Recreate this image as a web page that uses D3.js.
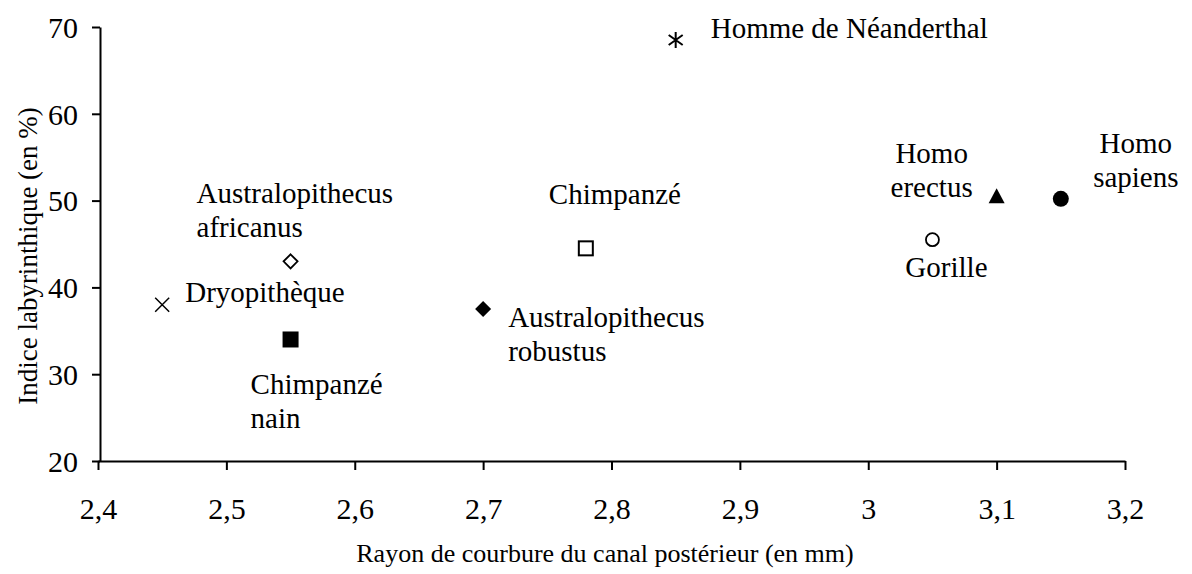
<!DOCTYPE html>
<html>
<head>
<meta charset="utf-8">
<script src="https://cdn.jsdelivr.net/npm/d3@7"></script>
<style>
  body { margin: 0; background: #fff; }
  svg text { font-family: "Liberation Serif", Tinos, "Times New Roman", "DejaVu Serif", serif; }
</style>
</head>
<body>
<div id="chart"></div>
<script>
// species measured
const species = ['Dryopithèque', 'Australopithecus africanus', 'Chimpanzé nain', 'Australopithecus robustus',
  'Chimpanzé', 'Homme de Néanderthal', 'Gorille', 'Homo erectus', 'Homo sapiens'];
const rayon = [2.45, 2.55, 2.55, 2.70, 2.78, 2.85, 3.05, 3.10, 3.15];   // mm
const indice = [38, 43, 34, 37.5, 44.5, 68.5, 45.5, 50.5, 50.2];      // %
const symbols = ['cross', 'diamondOpen', 'squareFilled', 'diamondFilled', 'squareOpen',
  'asterisk', 'circleOpen', 'triangleFilled', 'circleFilled'];

const xTicks = [2.4, 2.5, 2.6, 2.7, 2.8, 2.9, 3.0, 3.1, 3.2];
const yTicks = [20, 30, 40, 50, 60, 70];

// label placement (lines, anchor, offset from the point, in px)
const labels = [
  { lines: ['Dryopithèque'], anchor: 'start', dx: 23, dy: -3 },
  { lines: ['Australopithecus', 'africanus'], anchor: 'start', dx: -94, dy: -58 },
  { lines: ['Chimpanzé', 'nain'], anchor: 'start', dx: -40, dy: 55 },
  { lines: ['Australopithecus', 'robustus'], anchor: 'start', dx: 25, dy: 18 },
  { lines: ['Chimpanzé'], anchor: 'start', dx: -37, dy: -44 },
  { lines: ['Homme de Néanderthal'], anchor: 'start', dx: 35, dy: -2 },
  { lines: ['Gorille'], anchor: 'middle', dx: 14, dy: 37 },
  { lines: ['Homo', 'erectus'], anchor: 'middle', dx: -65, dy: -33 },
  { lines: ['Homo', 'sapiens'], anchor: 'middle', dx: 75, dy: -46 }
];

const W = 1192, H = 574;
const svg = d3.select('#chart').append('svg')
  .attr('width', W)
  .attr('height', H);

const x = d3.scaleLinear().domain([2.4, 3.2]).range([98, 1125]);
const y = d3.scaleLinear().domain([20, 70]).range([461, 27]);

const fmt = d => String(d3.format('~g')(d)).replace('.', ',');

// x axis
const gx = svg.append('g')
  .attr('transform', `translate(0, ${y(20)})`)
  .call(d3.axisBottom(x).tickValues(xTicks).tickFormat(fmt).tickSize(9).tickSizeOuter(0).tickPadding(28));
// y axis
const gy = svg.append('g')
  .attr('transform', `translate(${x(2.4) + 2}, 0)`)
  .call(d3.axisLeft(y).tickValues(yTicks).tickFormat(d => d).tickSize(8).tickSizeOuter(0).tickPadding(14));

[gx, gy].forEach(g => {
  g.attr('font-family', null);
  g.select('.domain').attr('stroke', '#000').attr('stroke-width', 2);
  g.selectAll('.tick line').attr('stroke', '#000').attr('stroke-width', 2);
  g.selectAll('.tick text')
    .attr('fill', '#000')
    .style('font-size', '30px');
});
gy.selectAll('.tick text').attr('dy', '0.34em');

// axis titles
svg.append('text')
  .attr('x', 605)
  .attr('y', 562)
  .attr('text-anchor', 'middle')
  .style('font-size', '26px')
  .text('Rayon de courbure du canal postérieur (en mm)');

svg.append('text')
  .attr('transform', 'translate(37, 256) rotate(-90)')
  .attr('text-anchor', 'middle')
  .style('font-size', '27px')
  .text('Indice labyrinthique (en %)');

// markers
const pts = svg.append('g');
species.forEach((s, i) => {
  const cx = x(rayon[i]), cy = y(indice[i]);
  const g = pts.append('g').attr('transform', `translate(${cx}, ${cy})`);
  switch (symbols[i]) {
    case 'cross':
      g.append('path').attr('d', 'M-7,-7L7,7M-7,7L7,-7').attr('stroke', '#000').attr('stroke-width', 1.5);
      break;
    case 'asterisk':
      g.append('path').attr('d', 'M0,-8L0,8M-7,-5L7,5M-7,5L7,-5').attr('stroke', '#000').attr('stroke-width', 2);
      break;
    case 'diamondOpen':
      g.append('path').attr('d', 'M0,-7L7,0L0,7L-7,0Z').attr('fill', '#fff').attr('stroke', '#000').attr('stroke-width', 1.8);
      break;
    case 'diamondFilled':
      g.append('path').attr('d', 'M0,-8L8,0L0,8L-8,0Z').attr('fill', '#000');
      break;
    case 'squareOpen':
      g.append('rect').attr('x', -7).attr('y', -7).attr('width', 14).attr('height', 14)
        .attr('fill', '#fff').attr('stroke', '#000').attr('stroke-width', 2);
      break;
    case 'squareFilled':
      g.append('rect').attr('x', -8).attr('y', -8).attr('width', 16).attr('height', 16).attr('fill', '#000');
      break;
    case 'circleOpen':
      g.append('circle').attr('r', 6.5).attr('fill', '#fff').attr('stroke', '#000').attr('stroke-width', 1.8);
      break;
    case 'circleFilled':
      g.append('circle').attr('r', 8).attr('fill', '#000');
      break;
    case 'triangleFilled':
      g.append('path').attr('d', 'M0,-8L8,7L-8,7Z').attr('fill', '#000');
      break;
  }
  // label
  const lb = labels[i];
  const t = svg.append('text')
    .attr('text-anchor', lb.anchor)
    .style('font-size', '29px')
    .attr('fill', '#000');
  lb.lines.forEach((line, k) => {
    t.append('tspan')
      .attr('x', cx + lb.dx)
      .attr('y', cy + lb.dy + k * 34)
      .text(line);
  });
});
</script>
</body>
</html>
